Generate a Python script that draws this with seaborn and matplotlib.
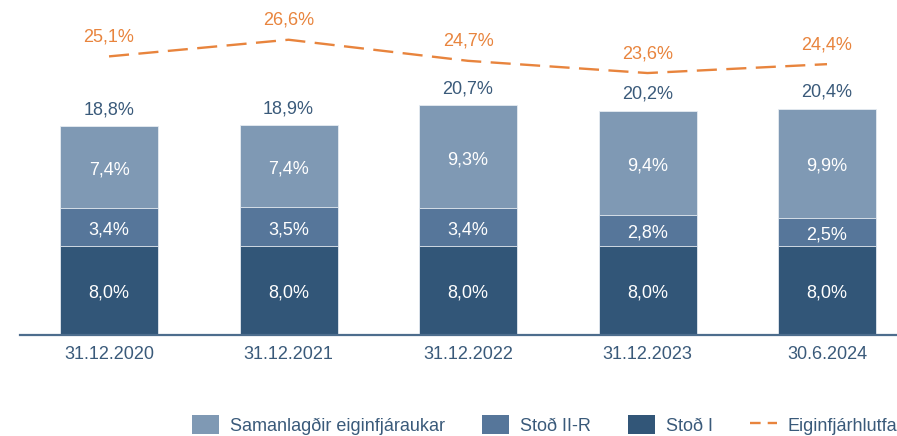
import matplotlib
matplotlib.use("Agg")
import matplotlib.pyplot as plt
from matplotlib.patches import Patch
from matplotlib.lines import Line2D
import seaborn as sns
import pandas as pd

# Capital ratios by reporting date (%)
dates = ["31.12.2020", "31.12.2021", "31.12.2022", "31.12.2023", "30.6.2024"]
tier1 = [8.0, 8.0, 8.0, 8.0, 8.0]          # Stoð I
tier2r = [3.4, 3.5, 3.4, 2.8, 2.5]         # Stoð II-R
buffers = [7.4, 7.4, 9.3, 9.4, 9.9]        # Samanlagðir eiginfjáraukar
totals = [18.8, 18.9, 20.7, 20.2, 20.4]    # total requirement
capital_ratio = [25.1, 26.6, 24.7, 23.6, 24.4]  # Eiginfjárhlutfall

series_names = ["Samanlagðir eiginfjáraukar", "Stoð II-R", "Stoð I", "Eiginfjárhlutfall"]

C_LIGHT = "#7F99B4"
C_MID = "#56769A"
C_DARK = "#325678"
C_ORANGE = "#E8843D"
C_TEXT = "#3A5A7A"

sns.set_theme(style="white")
plt.rcParams["font.family"] = ["Liberation Sans", "DejaVu Sans"]

df = pd.DataFrame({
    "date": dates,
    "tier1": tier1,
    "tier2r": tier2r,
    "buffers": buffers,
    "total": totals,
    "ratio": capital_ratio,
})
df["upto_tier2r"] = df["tier1"] + df["tier2r"]
df["upto_buffers"] = df["upto_tier2r"] + df["buffers"]

fig = plt.figure(figsize=(8.97, 4.36), dpi=100)
ax = fig.add_axes([20 / 897, 1 - 335 / 436, 1 - 20 / 897, 335 / 436])

BAR_W = 0.546
bar_kw = dict(width=BAR_W, edgecolor="#E6ECF2", linewidth=0.6, saturation=1)
# Stacked bars drawn as overlapping cumulative layers
sns.barplot(data=df, x="date", y="upto_buffers", color=C_LIGHT, ax=ax, **bar_kw)
sns.barplot(data=df, x="date", y="upto_tier2r", color=C_MID, ax=ax, **bar_kw)
sns.barplot(data=df, x="date", y="tier1", color=C_DARK, ax=ax, **bar_kw)

# Capital ratio line through bar centres
sns.lineplot(x=list(range(len(dates))), y=df["ratio"], ax=ax, color=C_ORANGE,
             linewidth=1.7, dashes=False)
ax.lines[-1].set_dashes([8.5, 4])
ax.lines[-1].set_dash_capstyle("butt")

def fmt(v):
    return f"{v:.1f}%".replace(".", ",")

FS = 13.0
inside = dict(textcoords="offset points", xytext=(0, -2), ha="center",
              va="center", color="white", fontsize=FS)
for i, row in df.iterrows():
    ax.annotate(fmt(row["tier1"]), (i, row["tier1"] / 2), **inside)
    ax.annotate(fmt(row["tier2r"]), (i, row["tier1"] + row["tier2r"] / 2), **inside)
    ax.annotate(fmt(row["buffers"]), (i, row["upto_tier2r"] + row["buffers"] / 2),
                **inside)
    ax.annotate(fmt(row["total"]), (i, row["upto_buffers"]), xytext=(0, 12),
                textcoords="offset points", ha="center", va="center",
                color=C_TEXT, fontsize=FS)
    ax.annotate(fmt(row["ratio"]), (i, row["ratio"]), xytext=(0, 14),
                textcoords="offset points", ha="center", va="center",
                color=C_ORANGE, fontsize=FS)

ax.set_xlim(-0.496, 4.39)
ax.set_ylim(0, 335 / 11.1)
ax.set_xlabel("")
ax.set_ylabel("")
ax.set_yticks([])
for s in ["top", "right", "left"]:
    ax.spines[s].set_visible(False)
ax.spines["bottom"].set_color("#4D6D8D")
ax.spines["bottom"].set_linewidth(1.6)
ax.tick_params(axis="x", length=0, pad=8, labelsize=FS, labelcolor=C_TEXT)

handles = [
    Patch(facecolor=C_LIGHT, edgecolor="none"),
    Patch(facecolor=C_MID, edgecolor="none"),
    Patch(facecolor=C_DARK, edgecolor="none"),
    Line2D([0], [0], color=C_ORANGE, linewidth=1.7, dashes=[4.5, 3],
           dash_capstyle="butt"),
]
leg = fig.legend(handles, series_names, ncol=4, loc="center left",
                 bbox_to_anchor=(192 / 897, 1 - 425 / 436), frameon=False,
                 fontsize=FS, handlelength=1.5, handleheight=1.2,
                 handletextpad=0.6, columnspacing=2.05, borderpad=0,
                 borderaxespad=0)
for t in leg.get_texts():
    t.set_color(C_TEXT)

fig.savefig("out.png", dpi=100)
